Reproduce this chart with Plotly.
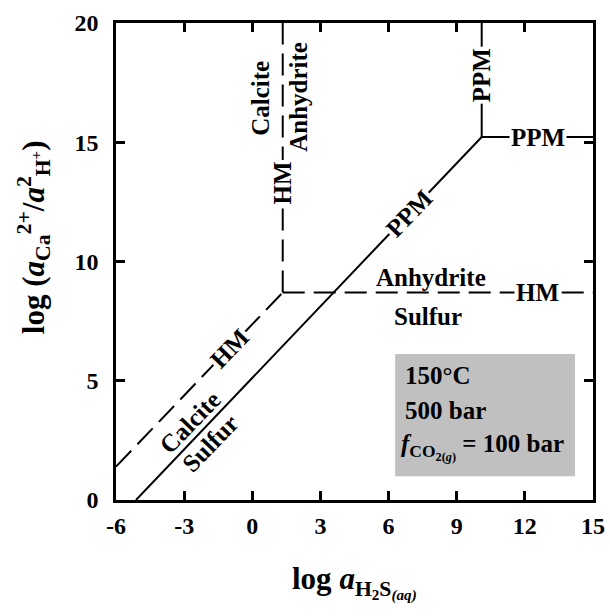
import plotly.graph_objects as go

# ---- data ----
ppm_diag_x = [-5.12, 10.1]
ppm_diag_y = [0.0, 15.22]
ppm_vert_x = [10.1, 10.1]
ppm_vert_y = [15.22, 20.0]
ppm_horiz_x = [10.1, 15.0]
ppm_horiz_y = [15.22, 15.22]

hm_diag_x = [-6.0, 1.34]
hm_diag_y = [1.4, 8.7]
hm_vert_x = [1.34, 1.34]
hm_vert_y = [8.7, 20.0]
hm_horiz_x = [1.34, 15.0]
hm_horiz_y = [8.7, 8.7]

x_ticks = [-6, -3, 0, 3, 6, 9, 12, 15]
x_tick_text = ["-6", "-3", "0", "3", "6", "9", "12", "15"]
y_ticks = [0, 5, 10, 15, 20]
y_tick_text = ["0", "5", "10", "15", "20"]

box_x = [6.29, 14.21]
box_y = [1.0, 6.12]

# labels: text, x, y, angle, sits on a line (needs white background)
labels = [
    ("Calcite", 0.38, 16.86, -90, False),
    ("Anhydrite", 2.05, 16.9, -90, False),
    ("HM", 1.34, 13.3, -90, True),
    ("PPM", 10.1, 17.8, -90, True),
    ("PPM", 12.56, 15.22, 0, True),
    ("PPM", 6.9, 12.02, -46, True),
    ("Anhydrite", 7.85, 9.35, 0, False),
    ("HM", 12.54, 8.7, 0, True),
    ("Sulfur", 7.72, 7.7, 0, False),
    ("HM", -1.0, 6.36, -46, True),
    ("Calcite", -2.74, 3.23, -46, False),
    ("Sulfur", -1.86, 2.39, -46, False),
]

box_lines = [
    ("150°C", 6.64, 5.24),
    ("500 bar", 6.64, 3.77),
    ("<i>f</i><sub>CO<sub>2(<i>g</i>)</sub></sub> = 100 bar", 6.45, 2.22),
]

x_title = "log <i>a</i><sub>H<sub>2</sub>S<sub><i>(aq)</i></sub></sub>"
y_title = "log (<i>a</i><sub>Ca</sub><sup>2+</sup>/<i>a</i><sup>2</sup><sub>H<sup>+</sup></sub>)"

FONT = "Liberation Serif, Times New Roman, serif"
DASH = "22px,9px"

fig = go.Figure()

def add_line(xs, ys, dash):
    fig.add_trace(go.Scatter(x=xs, y=ys, mode="lines",
                             line=dict(color="black", width=2, dash=dash),
                             showlegend=False, hoverinfo="skip"))

add_line(ppm_diag_x, ppm_diag_y, "solid")
add_line(ppm_vert_x, ppm_vert_y, "solid")
add_line(ppm_horiz_x, ppm_horiz_y, "solid")
add_line(hm_diag_x, hm_diag_y, DASH)
add_line(hm_vert_x, hm_vert_y, DASH)
add_line(hm_horiz_x, hm_horiz_y, DASH)

fig.add_shape(type="rect", x0=box_x[0], x1=box_x[1], y0=box_y[0], y1=box_y[1],
              xref="x", yref="y", fillcolor="#c0c0c0", line=dict(width=0),
              layer="below")

for t, x, y, a, on_line in labels:
    fig.add_annotation(x=x, y=y, text=t, textangle=a, showarrow=False,
                       bgcolor="white" if on_line else "rgba(0,0,0,0)", borderpad=1,
                       font=dict(family=FONT, size=25, color="black", weight="bold"))

for t, x, y in box_lines:
    fig.add_annotation(x=x, y=y, text=t, showarrow=False, xanchor="left",
                       font=dict(family=FONT, size=25, color="black", weight="bold"))

# axis titles as annotations for exact placement
fig.add_annotation(xref="paper", yref="paper", x=0.501, y=-0.172, text=x_title,
                   showarrow=False, xanchor="center", yanchor="middle",
                   font=dict(family=FONT, size=31, color="black", weight="bold"))
fig.add_annotation(xref="paper", yref="paper", x=-0.172, y=0.551, text=y_title,
                   textangle=-90, showarrow=False, xanchor="center", yanchor="middle",
                   font=dict(family=FONT, size=31, color="black", weight="bold"))

axis_common = dict(
    showline=True, linecolor="black", linewidth=2.5, mirror="ticks",
    ticks="inside", ticklen=9, tickwidth=2.5, tickcolor="black",
    showgrid=False, zeroline=False, automargin=False,
    tickfont=dict(family=FONT, size=24, color="black", weight="bold"),
)

fig.update_xaxes(range=[-6, 15], tickvals=x_ticks, ticktext=x_tick_text,
                 ticklabelstandoff=2, **axis_common)
fig.update_yaxes(range=[0, 20], tickvals=y_ticks, ticktext=y_tick_text,
                 ticklabelstandoff=10, **axis_common)

fig.update_layout(
    width=610, height=616,
    margin=dict(l=116, r=17, t=23, b=116, autoexpand=False),
    plot_bgcolor="white", paper_bgcolor="white",
    font=dict(family=FONT, color="black"),
)

fig.write_html("out.html", config={"displayModeBar": False},
               post_script="document.body.style.margin='0';document.body.style.padding='0';")
